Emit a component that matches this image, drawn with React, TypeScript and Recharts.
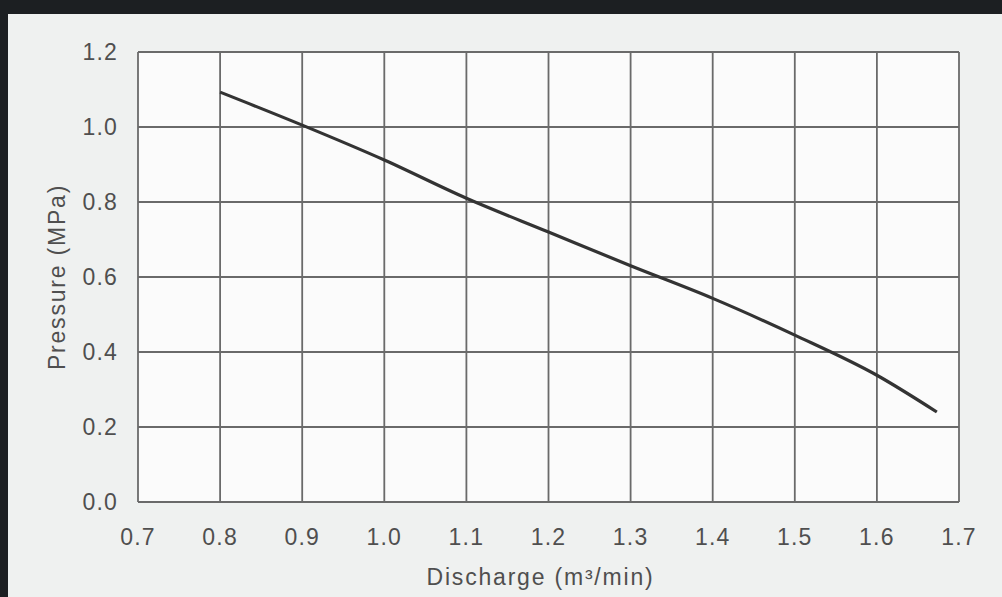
import { LineChart, Line, XAxis, YAxis, CartesianGrid } from "recharts";

const discharge = [0.8, 0.9, 1.0, 1.1, 1.2, 1.3, 1.4, 1.5, 1.6, 1.673];
const pressure = [1.093, 1.005, 0.912, 0.81, 0.72, 0.63, 0.543, 0.445, 0.338, 0.24];
const xTicks = [0.7, 0.8, 0.9, 1.0, 1.1, 1.2, 1.3, 1.4, 1.5, 1.6, 1.7];
const yTicks = [0, 0.2, 0.4, 0.6, 0.8, 1.0, 1.2];

const data = discharge.map((d, i) => ({ discharge: d, pressure: pressure[i] }));

const font = '"Liberation Sans", Arial, sans-serif';
const textColor = "#4f4f4f";
const tickStyle = { fontSize: 23, fill: textColor, fontFamily: font, letterSpacing: 1.2 };
const titleStyle = { fontSize: 23, fill: textColor, fontFamily: font, letterSpacing: 1.8 };

const App = () => {
  return (
    <div
      style={{
        position: "absolute",
        left: 0,
        top: 0,
        width: 1002,
        height: 597,
        background: "#eff1f0",
        overflow: "hidden",
      }}
    >
      {/* dark frame from the scan */}
      <div style={{ position: "absolute", left: 0, top: 0, width: 1002, height: 14, background: "#1c1f22" }} />
      <div style={{ position: "absolute", left: 0, top: 0, width: 8, height: 597, background: "#1c1f22" }} />
      <div style={{ position: "absolute", left: 0, top: 0 }}>
        <LineChart
          width={1002}
          height={597}
          data={data}
          margin={{ top: 52, right: 43, bottom: 10, left: 38 }}
        >
          <CartesianGrid stroke="#6a6a6a" strokeWidth={1.8} fill="#fbfbfb" />
          <XAxis
            dataKey="discharge"
            type="number"
            domain={[0.7, 1.7]}
            ticks={xTicks}
            tickFormatter={(v: number) => v.toFixed(1)}
            axisLine={false}
            tickLine={false}
            tickSize={0}
            tickMargin={27}
            height={85}
            tick={tickStyle}
            label={{
              value: "Discharge  (m³/min)",
              position: "insideBottom",
              offset: 2,
              dx: -8,
              style: titleStyle,
            }}
          />
          <YAxis
            type="number"
            domain={[0, 1.2]}
            ticks={yTicks}
            tickFormatter={(v: number) => v.toFixed(1)}
            axisLine={false}
            tickLine={false}
            tickSize={0}
            tickMargin={20}
            width={100}
            tick={tickStyle}
            label={{
              value: "Pressure  (MPa)",
              angle: -90,
              position: "insideLeft",
              offset: 19,
              style: { ...titleStyle, textAnchor: "middle" },
            }}
          />
          <Line
            type="monotone"
            dataKey="pressure"
            stroke="#333"
            strokeWidth={3.2}
            dot={false}
            isAnimationActive={false}
          />
        </LineChart>
      </div>
    </div>
  );
};

export default App;
